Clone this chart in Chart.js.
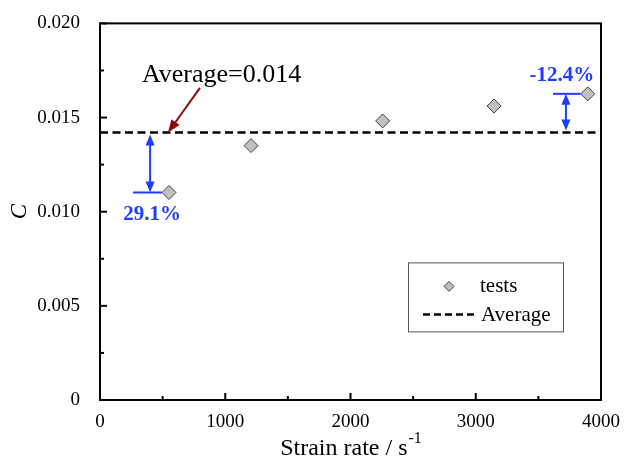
<!DOCTYPE html>
<html>
<head>
<meta charset="utf-8">
<script src="https://cdn.jsdelivr.net/npm/chart.js@4.4.1/dist/chart.umd.min.js"></script>
<style>
  html, body { margin: 0; padding: 0; background: #fff; }
  #wrap { width: 633px; height: 464px; }
</style>
</head>
<body>
<div id="wrap"><canvas id="chart" width="633" height="464"></canvas></div>
<script>
// data
const strainRate = [551, 1206, 2257, 3146, 3894];
const cTests = [0.01102, 0.01351, 0.01482, 0.01561, 0.01626];
const cAverage = 0.0142;
const averageText = 'Average=0.014';
const deviationLabels = ['29.1%', '-12.4%'];
const seriesNames = ['tests', 'Average'];

const serif = '"Liberation Serif", "Times New Roman", serif';
const blue = '#1f3dff';
const darkRed = '#8c0c0c';

function arrowHead(ctx, x, y, angle, len, half) {
  ctx.beginPath();
  ctx.moveTo(x, y);
  ctx.lineTo(x - len * Math.cos(angle) + half * Math.sin(angle), y - len * Math.sin(angle) - half * Math.cos(angle));
  ctx.lineTo(x - len * Math.cos(angle) - half * Math.sin(angle), y - len * Math.sin(angle) + half * Math.cos(angle));
  ctx.closePath();
  ctx.fill();
}

const decorPlugin = {
  id: 'decor',
  afterDraw(chart) {
    const ctx = chart.ctx;
    const xs = chart.scales.x;
    const ys = chart.scales.y;
    const a = chart.chartArea;
    ctx.save();

    // frame
    ctx.strokeStyle = '#000';
    ctx.lineWidth = 2;
    ctx.setLineDash([]);
    ctx.strokeRect(a.left, a.top, a.right - a.left, a.bottom - a.top);

    // inward ticks, major and minor
    for (let v = xs.min; v <= xs.max + 1e-9; v += 500) {
      const px = xs.getPixelForValue(v);
      const len = (Math.round(v) % 1000 === 0) ? 7 : 4;
      ctx.beginPath();
      ctx.moveTo(px, a.bottom);
      ctx.lineTo(px, a.bottom - len);
      ctx.stroke();
    }
    for (let k = 0; k <= 8; k++) {
      const v = ys.min + k * 0.0025;
      const py = ys.getPixelForValue(v);
      const len = (k % 2 === 0) ? 7 : 4;
      ctx.beginPath();
      ctx.moveTo(a.left, py);
      ctx.lineTo(a.left + len, py);
      ctx.stroke();
    }

    // x axis title with superscript
    ctx.fillStyle = '#000';
    ctx.textBaseline = 'alphabetic';
    const main = 'Strain rate / s';
    ctx.font = '16px ' + serif;
    const supW = ctx.measureText('-1').width;
    ctx.font = '24px ' + serif;
    const mainW = ctx.measureText(main).width;
    const cx = (a.left + a.right) / 2;
    const startX = cx - (mainW + supW) / 2;
    ctx.textAlign = 'left';
    ctx.fillText(main, startX, 455);
    ctx.font = '16px ' + serif;
    ctx.fillText('-1', startX + mainW + 1, 443);

    // average annotation
    ctx.font = '26px ' + serif;
    ctx.textAlign = 'left';
    ctx.textBaseline = 'middle';
    ctx.fillText(averageText, xs.getPixelForValue(335), ys.getPixelForValue(0.01726));

    const rx0 = xs.getPixelForValue(798), ry0 = ys.getPixelForValue(0.01658);
    const rx1 = xs.getPixelForValue(543), ry1 = ys.getPixelForValue(cAverage);
    ctx.strokeStyle = darkRed;
    ctx.fillStyle = darkRed;
    ctx.lineWidth = 2;
    const ang = Math.atan2(ry1 - ry0, rx1 - rx0);
    ctx.beginPath();
    ctx.moveTo(rx0, ry0);
    ctx.lineTo(rx1 - 10 * Math.cos(ang), ry1 - 10 * Math.sin(ang));
    ctx.stroke();
    arrowHead(ctx, rx1, ry1, ang, 13, 5);

    // deviation markers
    const marks = [
      { idx: 0, arrowX: 400, lineFrom: 263, below: true },
      { idx: 4, arrowX: 3720, lineFrom: 3617, below: false }
    ];
    ctx.strokeStyle = blue;
    ctx.fillStyle = blue;
    marks.forEach((m, i) => {
      const py = ys.getPixelForValue(cTests[m.idx]);
      const pxPoint = xs.getPixelForValue(strainRate[m.idx]) - 7;
      const ax = xs.getPixelForValue(m.arrowX);
      const ay = ys.getPixelForValue(cAverage) + (m.below ? 2 : -2);
      ctx.lineWidth = 2;
      ctx.beginPath();
      ctx.moveTo(xs.getPixelForValue(m.lineFrom), py);
      ctx.lineTo(pxPoint, py);
      ctx.stroke();
      const dir = py > ay ? 1 : -1;
      ctx.beginPath();
      ctx.moveTo(ax, ay + dir * 8);
      ctx.lineTo(ax, py - dir * 8);
      ctx.stroke();
      arrowHead(ctx, ax, ay, dir > 0 ? -Math.PI / 2 : Math.PI / 2, 11, 4.5);
      arrowHead(ctx, ax, py, dir > 0 ? Math.PI / 2 : -Math.PI / 2, 11, 4.5);
      ctx.font = 'bold 21px ' + serif;
      ctx.textAlign = 'center';
      ctx.textBaseline = 'middle';
      ctx.fillText(deviationLabels[i], ax + (m.below ? 2 : -4), m.below ? py + 22 : py - 18);
    });

    // legend box
    const lx = a.right - 193, ly = a.top + 239, lw = 155, lh = 69;
    ctx.strokeStyle = '#555';
    ctx.lineWidth = 1;
    ctx.strokeRect(lx + 0.5, ly + 0.5, lw, lh);
    ctx.fillStyle = '#000';
    ctx.font = '21px ' + serif;
    ctx.textAlign = 'left';
    ctx.textBaseline = 'middle';
    // tests item
    const dx = lx + 41, dy = ly + 24;
    ctx.beginPath();
    ctx.moveTo(dx, dy - 5);
    ctx.lineTo(dx + 5, dy);
    ctx.lineTo(dx, dy + 5);
    ctx.lineTo(dx - 5, dy);
    ctx.closePath();
    ctx.fillStyle = '#c0c0c0';
    ctx.fill();
    ctx.strokeStyle = '#444';
    ctx.stroke();
    ctx.fillStyle = '#000';
    ctx.fillText(seriesNames[0], lx + 72, dy);
    // average item
    const ay2 = ly + 52;
    ctx.strokeStyle = '#000';
    ctx.lineWidth = 2.5;
    ctx.setLineDash([7, 4]);
    ctx.beginPath();
    ctx.moveTo(lx + 15, ay2);
    ctx.lineTo(lx + 68, ay2);
    ctx.stroke();
    ctx.setLineDash([]);
    ctx.fillText(seriesNames[1], lx + 73, ay2 + 1);

    ctx.restore();
  }
};

new Chart(document.getElementById('chart'), {
  type: 'scatter',
  data: {
    datasets: [
      {
        label: seriesNames[0],
        data: strainRate.map((x, i) => ({ x, y: cTests[i] })),
        pointStyle: 'rectRot',
        pointRadius: 7,
        pointBackgroundColor: '#c0c0c0',
        pointBorderColor: '#404040',
        pointBorderWidth: 1,
        order: 0
      },
      {
        label: seriesNames[1],
        type: 'line',
        data: [{ x: 0, y: cAverage }, { x: 4000, y: cAverage }],
        borderColor: '#000',
        borderWidth: 2.5,
        borderDash: [8, 4.5],
        pointRadius: 0,
        fill: false,
        order: 1
      }
    ]
  },
  options: {
    responsive: false,
    animation: false,
    layout: { padding: { top: 20, right: 32, left: 0, bottom: 0 } },
    plugins: { legend: { display: false }, tooltip: { enabled: false } },
    scales: {
      x: {
        type: 'linear',
        min: 0, max: 4000,
        grid: { display: false },
        border: { display: false },
        ticks: {
          stepSize: 1000,
          padding: 3,
          color: '#000',
          font: { family: serif, size: 19 },
          maxRotation: 0,
          callback: v => String(v)
        },
        afterFit(s) { s.height = 64; }
      },
      y: {
        min: 0, max: 0.02,
        grid: { display: false },
        border: { display: false },
        title: {
          display: true,
          text: 'C',
          color: '#000',
          padding: { top: 6, bottom: 0 },
          font: { family: serif, size: 23, style: 'italic' }
        },
        ticks: {
          stepSize: 0.005,
          padding: 12,
          color: '#000',
          font: { family: serif, size: 19 },
          callback: v => (Math.abs(v) < 1e-9 ? '0' : v.toFixed(3))
        },
        afterFit(s) { s.width = 100; }
      }
    }
  },
  plugins: [decorPlugin]
});
</script>
</body>
</html>
